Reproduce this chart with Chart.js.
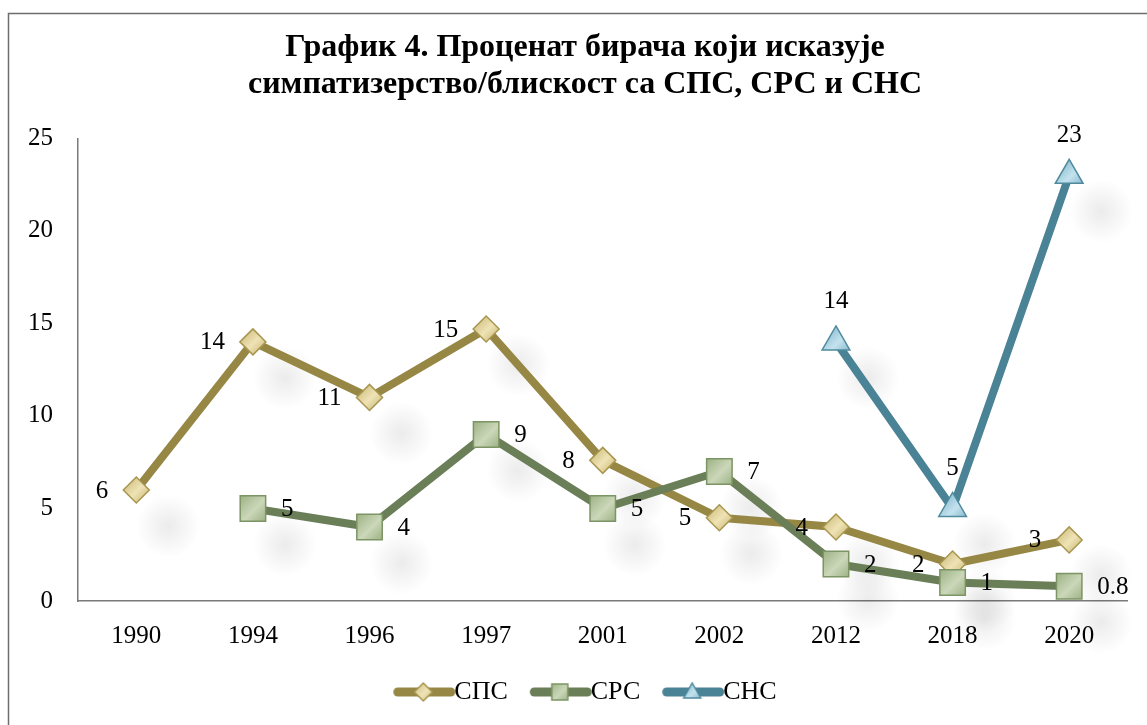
<!DOCTYPE html>
<html>
<head>
<meta charset="utf-8">
<script src="https://cdn.jsdelivr.net/npm/chart.js@4.4.1/dist/chart.umd.min.js"></script>
<style>
    html, body { margin: 0; padding: 0; background: #fff; overflow: hidden; }
    #wrap { width: 1147px; height: 725px; position: relative; }
</style>
</head>
<body>
<div id="wrap"><canvas id="chart" width="1147" height="725"></canvas></div>
<script>
const years = ['1990', '1994', '1996', '1997', '2001', '2002', '2012', '2018', '2020'];
const sps = [6, 14, 11, 14.7, 7.6, 4.5, 4, 2, 3.3];
const srs = [null, 5, 4, 9, 5, 7, 2, 1, 0.8];
const sns = [null, null, null, null, null, null, 14, 5, 23];
// labels as printed on the chart (rounded)
const spsLabels = ['6', '14', '11', '15', '8', '5', '4', '2', '3'];
const srsLabels = [null, '5', '4', '9', '5', '7', '2', '1', '0.8'];
const snsLabels = [null, null, null, null, null, null, '14', '5', '23'];
const yTicks = [0, 5, 10, 15, 20, 25];

const FONT = "'Liberation Serif', 'Times New Roman', serif";

const colors = {
    sps: { line: '#978744', border: '#a8964f', light: '#efe3b6', dark: '#d2c283' },
    srs: { line: '#6a7e57', border: '#7d9464', light: '#cbd7b9', dark: '#9cb184' },
    sns: { line: '#4a8296', border: '#4f8a9e', light: '#c4e2ee', dark: '#7db4ca' }
};

// gradient marker fill, computed from the scales for each point
function markerFill(c, r) {
    return (ctx) => {
        const chart = ctx.chart;
        const area = chart.chartArea;
        if (!area || ctx.parsed == null || ctx.parsed.y == null) return c.dark;
        const x = chart.scales.x.getPixelForValue(ctx.dataIndex);
        const y = chart.scales.y.getPixelForValue(ctx.parsed.y);
        const g = chart.ctx.createLinearGradient(x - r, y - r, x + r, y + r);
        g.addColorStop(0, c.dark);
        g.addColorStop(0.55, c.light);
        g.addColorStop(1, c.dark);
        return g;
    };
}

function legendIcon(c, style) {
    const cv = document.createElement('canvas');
    cv.width = 78; cv.height = 26;
    const g = cv.getContext('2d');
    g.strokeStyle = c.line;
    g.lineWidth = 9;
    g.lineCap = 'round';
    g.beginPath(); g.moveTo(19.5, 13); g.lineTo(72.5, 13); g.stroke();
    const cx = 45, cy = 13;
    const grad = g.createLinearGradient(cx - 9, cy - 9, cx + 9, cy + 9);
    grad.addColorStop(0, c.dark); grad.addColorStop(0.55, c.light); grad.addColorStop(1, c.dark);
    g.fillStyle = grad;
    g.strokeStyle = c.border;
    g.lineWidth = 1.5;
    g.beginPath();
    if (style === 'rectRot') {
        g.moveTo(cx - 9, cy); g.lineTo(cx, cy - 9); g.lineTo(cx + 9, cy); g.lineTo(cx, cy + 9);
    } else if (style === 'rect') {
        g.rect(cx - 8, cy - 8, 16, 16);
    } else {
        g.moveTo(cx, cy - 9); g.lineTo(cx + 8.5, cy + 6); g.lineTo(cx - 8.5, cy + 6);
    }
    g.closePath(); g.fill(); g.stroke();
    return cv;
}

const legendIcons = [
    legendIcon(colors.sps, 'rectRot'),
    legendIcon(colors.srs, 'rect'),
    legendIcon(colors.sns, 'triangle')
];

// outer frame of the chart object
const framePlugin = {
    id: 'frame',
    beforeDraw(chart) {
        const ctx = chart.ctx;
        ctx.save();
        ctx.fillStyle = '#fff';
        ctx.fillRect(0, 0, chart.width, chart.height);
        ctx.strokeStyle = '#6e6e6e';
        ctx.lineWidth = 1.5;
        ctx.strokeRect(8.5, 13.5, chart.width + 20, chart.height + 20);
        ctx.restore();
    }
};

// soft shadows under the markers
const shadowPlugin = {
    id: 'markerShadows',
    beforeDatasetsDraw(chart) {
        const ctx = chart.ctx;
        ctx.save();
        chart.data.datasets.forEach((ds, i) => {
            chart.getDatasetMeta(i).data.forEach((pt, j) => {
                if (ds.data[j] == null) return;
                const sx = pt.x + 32, sy = pt.y + 36;
                const g = ctx.createRadialGradient(sx, sy, 0, sx, sy, 32);
                g.addColorStop(0, 'rgba(0,0,0,0.08)');
                g.addColorStop(1, 'rgba(0,0,0,0)');
                ctx.fillStyle = g;
                ctx.fillRect(sx - 32, sy - 32, 64, 64);
            });
        });
        ctx.restore();
    }
};

// value labels next to the points
const valueLabels = {
    id: 'valueLabels',
    afterDatasetsDraw(chart) {
        const ctx = chart.ctx;
        ctx.save();
        ctx.font = '25px ' + FONT;
        ctx.fillStyle = '#000';
        ctx.textBaseline = 'middle';
        chart.data.datasets.forEach((ds, i) => {
            const meta = chart.getDatasetMeta(i);
            meta.data.forEach((pt, j) => {
                const txt = ds.labels[j];
                if (txt == null) return;
                if (ds.labelPos === 'left') {
                    ctx.textAlign = 'right';
                    ctx.fillText(txt, pt.x - 28, pt.y + 1);
                } else if (ds.labelPos === 'right') {
                    ctx.textAlign = 'left';
                    ctx.fillText(txt, pt.x + 28, pt.y + 1);
                } else {
                    ctx.textAlign = 'center';
                    ctx.fillText(txt, pt.x, pt.y - 40);
                }
            });
        });
        ctx.restore();
    }
};

new Chart(document.getElementById('chart'), {
    type: 'line',
    data: {
        labels: years,
        datasets: [
            {
                label: 'СПС',
                data: sps,
                labels: spsLabels,
                labelPos: 'left',
                order: 3,
                borderColor: colors.sps.line,
                borderWidth: 8,
                pointStyle: 'rectRot',
                pointRadius: 13,
                pointHoverRadius: 13,
                pointBackgroundColor: markerFill(colors.sps, 9),
                pointBorderColor: colors.sps.border,
                pointBorderWidth: 1.5
            },
            {
                label: 'СРС',
                data: srs,
                labels: srsLabels,
                labelPos: 'right',
                order: 2,
                borderColor: colors.srs.line,
                borderWidth: 8,
                pointStyle: 'rect',
                pointRadius: 18,
                pointHoverRadius: 18,
                pointBackgroundColor: markerFill(colors.srs, 13),
                pointBorderColor: colors.srs.border,
                pointBorderWidth: 1.5
            },
            {
                label: 'СНС',
                data: sns,
                labels: snsLabels,
                labelPos: 'top',
                order: 1,
                borderColor: colors.sns.line,
                borderWidth: 8,
                pointStyle: 'triangle',
                pointRadius: 16,
                pointHoverRadius: 16,
                pointBackgroundColor: markerFill(colors.sns, 13),
                pointBorderColor: colors.sns.border,
                pointBorderWidth: 1.5
            }
        ]
    },
    options: {
        responsive: false,
        animation: false,
        devicePixelRatio: 1,
        spanGaps: false,
        elements: {
            line: { tension: 0, borderJoinStyle: 'round', borderCapStyle: 'round' }
        },
        layout: { padding: { left: 23, top: 13, right: 0, bottom: 10 } },
        plugins: {
            tooltip: { enabled: false },
            title: {
                display: true,
                text: ['График 4. Проценат бирача који исказује', 'симпатизерство/блискост са СПС, СРС и СНС'],
                color: '#000',
                font: { family: FONT, size: 32, weight: 'bold', lineHeight: 1.13 },
                padding: { top: 17, bottom: 36 }
            },
            legend: {
                display: true,
                position: 'bottom',
                labels: {
                    usePointStyle: true,
                    pointStyleWidth: 48,
                    padding: 22,
                    color: '#000',
                    font: { family: FONT, size: 26 },
                    generateLabels(chart) {
                        const items = Chart.defaults.plugins.legend.labels.generateLabels(chart);
                        items.sort((a, b) => a.datasetIndex - b.datasetIndex);
                        items.forEach((it) => { it.pointStyle = legendIcons[it.datasetIndex]; });
                        return items;
                    }
                }
            }
        },
        scales: {
            x: {
                offset: true,
                grid: { display: false, drawTicks: false },
                border: { display: true, color: '#7a7a7a', width: 1.5 },
                ticks: { color: '#000', font: { family: FONT, size: 25 }, padding: 20 },
                afterFit(scale) { scale.height = 56; }
            },
            y: {
                min: 0,
                max: 25,
                grid: { display: false, drawTicks: false },
                border: { display: true, color: '#7a7a7a', width: 1.5 },
                afterBuildTicks(scale) { scale.ticks = yTicks.map(v => ({ value: v })); },
                ticks: { color: '#000', font: { family: FONT, size: 25 }, padding: 25 },
                afterFit(scale) { scale.width = 55; }
            },
            // empty right-hand spacer so the plot ends where the original does
            yRight: {
                position: 'right',
                grid: { display: false, drawTicks: false },
                border: { display: false },
                ticks: { display: false },
                afterFit(scale) { scale.width = 15; }
            }
        }
    },
    plugins: [framePlugin, shadowPlugin, valueLabels]
});
</script>
</body>
</html>
